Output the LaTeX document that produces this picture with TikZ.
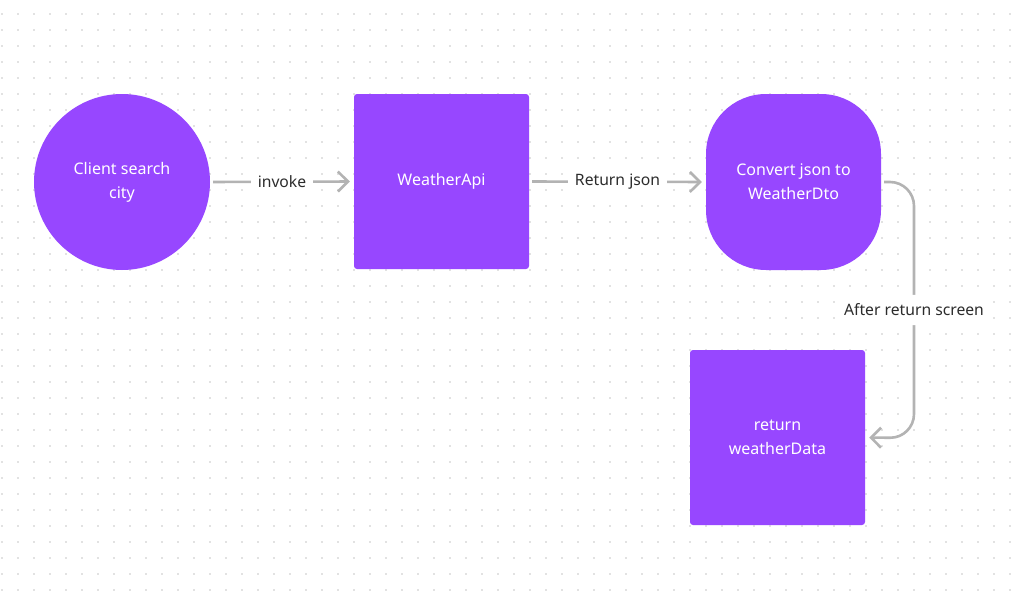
\documentclass[tikz,border=0pt]{standalone}
\usepackage{fontspec}
\setmainfont{Noto Sans}
\usetikzlibrary{arrows.meta,shapes.geometric}
\definecolor{fpurple}{HTML}{9747FF}
\definecolor{conn}{HTML}{B3B3B3}
\definecolor{labtxt}{HTML}{2C2C2C}
\definecolor{griddot}{HTML}{E2E2E2}
\tikzset{
  shapetxt/.style={text=white,font=\fontsize{16}{24}\selectfont,align=center,inner sep=0pt},
  blobcircle/.style={shapetxt,circle,fill=fpurple,minimum size=176pt},
  blobsquare/.style={shapetxt,rectangle,fill=fpurple,minimum width=175pt,minimum height=175pt,rounded corners=3pt},
  blobround/.style={shapetxt,rectangle,fill=fpurple,minimum width=175pt,minimum height=176pt,rounded corners=60pt},
  flow/.style={draw=conn,line width=2.6pt,-{Straight Barb[length=10pt,width=20pt,line width=2.6pt]},shorten <=3pt,shorten >=4pt},
  flowlabel/.style={fill=white,text=labtxt,font=\fontsize{15.7}{18}\selectfont,inner xsep=7pt,inner ysep=9pt}
}
\begin{document}
\begin{tikzpicture}[x=1pt,y=-1pt]
\useasboundingbox (0,0) rectangle (1023,594);
\fill[white] (0,0) rectangle (1023,594);
\foreach \gx in {2,18,...,1022}{
  \foreach \gy in {14,30,...,590}{
    \fill[griddot] (\gx-1,\gy-1) rectangle (\gx+1,\gy+1);
  }
}
\node[blobcircle] (client) at (122,182) {Client search\\city};
\node[blobsquare] (api) at (441.5,181.5) {WeatherApi};
\node[blobround] (conv) at (793.5,182) {Convert json to\\WeatherDto};
\node[blobsquare] (ret) at (777.5,437.5) {return\\weatherData};
\draw[flow] (client.east) -- node[flowlabel] {invoke} (api.west);
\draw[flow] (api.east) -- node[flowlabel] {Return json} (conv.west);
\coordinate (c1) at (914,182);
\coordinate (c2) at (914,438);
\draw[flow,rounded corners=24pt] (conv.east) -- (c1) -- node[flowlabel,pos=0.5] {After return screen} (c2) -- (ret.east);
\end{tikzpicture}
\end{document}
